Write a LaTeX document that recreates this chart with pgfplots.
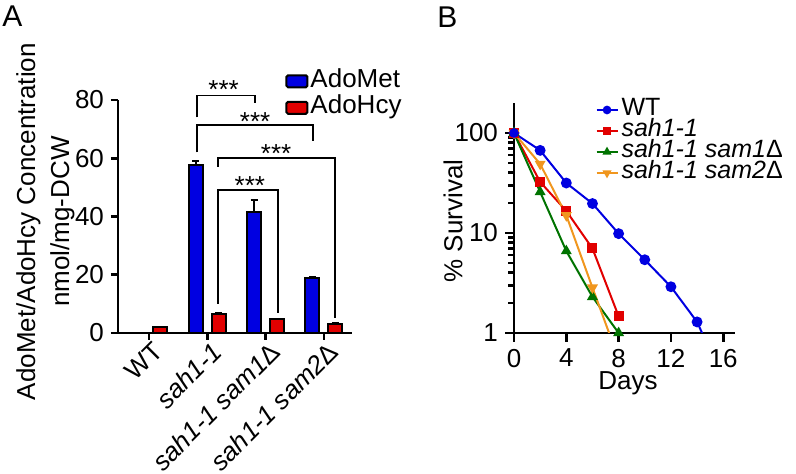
\documentclass[border=0pt]{standalone}
\usepackage{pgfplots}
\pgfplotsset{compat=1.18}
\usepackage{fontspec}
\setmainfont{Liberation Sans}
\definecolor{cblue}{RGB}{0,0,225}
\definecolor{cred}{RGB}{225,0,0}
\definecolor{cgreen}{RGB}{0,115,0}
\definecolor{corange}{RGB}{240,150,30}
\newcommand{\fs}{\fontsize{13}{13}\selectfont}
\newcommand{\fsl}{\fontsize{12.5}{12.5}\selectfont}
\begin{document}
\begin{tikzpicture}
\path[use as bounding box] (0pt,0pt) rectangle (398pt,-237pt);
\node[anchor=base west, font=\fontsize{15}{15}\selectfont, inner sep=0pt] at (1pt,-13.5pt) {A};
\node[anchor=base west, font=\fontsize{15}{15}\selectfont, inner sep=0pt] at (218.5pt,-14pt) {B};

\begin{axis}[
 font=\fs,
 at={(59pt,-166.5pt)}, anchor=south west,
 scale only axis, width=117pt, height=116.5pt,
 xmin=-0.53, xmax=3.48, ymin=0, ymax=80,
 axis x line=bottom, axis y line=left,
 axis line style={-, line width=1.3pt},
 every tick/.style={black, line width=1.3pt},
 major tick length=3.5pt, tick align=outside,
 xtick={0,1,2,3},
 xticklabels={WT, \textit{sah1-1}, \textit{sah1-1 sam1{\upshape Δ}}, \textit{sah1-1 sam2{\upshape Δ}}},
 xticklabel style={rotate=45, anchor=north east, inner sep=1pt, xshift=2pt, font=\fs},
 yticklabel style={font=\fs},
 ytick={0,20,40,60,80},
 /pgf/number format/assume math mode=true,
 ylabel={AdoMet/AdoHcy Concentration\\nmol/mg-DCW},
 ylabel style={at={(axis description cs:-0.31,0.478)}, anchor=center, align=center, font=\fontsize{13}{17}\selectfont},
 ybar=4.5pt, bar width=7pt,
 clip=false,
 legend style={at={(axis description cs:0.714,1.139)}, anchor=north west, draw=none, fill=none,
   font=\fs, inner sep=0pt, row sep=0pt,
   nodes={inner ysep=0pt, inner xsep=1pt, font=\fs, text height=9.5pt, text depth=3.75pt}},
 legend cell align=left,
]
\addplot[fill=cblue, draw=black, line width=1pt,
  legend image code/.code={\draw[fill=cblue, draw=black, line width=1pt, rounded corners=0.8pt] (0pt,-3pt) rectangle (10.5pt,3pt);},
  error bars/.cd, y dir=plus, y explicit,
  error bar style={line width=1pt, black},
  error mark options={rotate=90, mark size=1.8pt, line width=1pt, black}]
  coordinates {(1,57.6) +- (0,1.6) (2,41.6) +- (0,4.0) (3,18.8) +- (0,0.4)};
\addplot[fill=cred, draw=black, line width=1pt,
  legend image code/.code={\draw[fill=cred, draw=black, line width=1pt, rounded corners=0.8pt] (0pt,-3pt) rectangle (10.5pt,3pt);},
  error bars/.cd, y dir=plus, y explicit,
  error bar style={line width=1pt, black},
  error mark options={rotate=90, mark size=1.8pt, line width=1pt, black}]
  coordinates {(0,2.0) +- (0,0.2) (1,6.4) +- (0,0.4) (2,4.7) +- (0,0.2) (3,3.1) +- (0,0.2)};
\legend{AdoMet, AdoHcy}
\draw[line width=0.8pt] (axis cs:0.82,74) |- (axis cs:1.82,81.5) -- (axis cs:1.82,79);
\draw[line width=0.8pt] (axis cs:0.82,62) |- (axis cs:2.81,71.5) -- (axis cs:2.81,66);
\draw[line width=0.8pt] (axis cs:1.18,57) |- (axis cs:3.19,60) -- (axis cs:3.19,5);
\draw[line width=0.8pt] (axis cs:1.18,10) |- (axis cs:2.21,49) -- (axis cs:2.21,7);
\node[anchor=base, font=\fs, inner sep=0pt] at (axis cs:1.28,80.5) {***};
\node[anchor=base, font=\fs, inner sep=0pt] at (axis cs:1.82,69.5) {***};
\node[anchor=base, font=\fs, inner sep=0pt] at (axis cs:2.18,58.5) {***};
\node[anchor=base, font=\fs, inner sep=0pt] at (axis cs:1.73,47.5) {***};
\end{axis}

\begin{axis}[
 font=\fs,
 at={(257pt,-166.5pt)}, anchor=south west,
 scale only axis, width=110.5pt, height=115pt,
 xmin=0, xmax=16.9, ymin=1, ymax=199.5, ymode=log,
 axis x line=bottom, axis y line=left,
 axis line style={-, line width=1.3pt},
 every tick/.style={black, line width=1.3pt},
 major tick length=4.5pt, minor tick length=3pt,
 tick align=outside,
 xtick={0,4,8,12,16},
 ytick={1,10,100}, yticklabels={1,10,100},
 xticklabel style={font=\fs}, yticklabel style={font=\fs},
 /pgf/number format/assume math mode=true,
 xlabel={Days}, ylabel={\% Survival},
 xlabel style={at={(axis description cs:0.516,-0.217)}, anchor=center, font=\fs},
 ylabel style={at={(axis description cs:-0.276,0.487)}, anchor=center, font=\fs},
 legend style={at={(axis description cs:0.367,1.017)}, anchor=north west, draw=none, fill=none,
   font=\fsl, inner sep=0pt, row sep=0pt,
   nodes={inner ysep=0pt, inner xsep=1.5pt, font=\fsl, text height=8pt, text depth=2.5pt}},
 legend cell align=left,
 legend image code/.code={\draw[#1, mark indices={2}, /tikz/every mark/.append style={scale=0.75}] plot coordinates {(0pt,0pt)(5.25pt,0pt)(10.5pt,0pt)};},
]
\addplot[cblue, line width=1pt, mark=*, mark size=2.2pt, mark indices={1,2,3,4,5,6,7,8}]
  coordinates {(0,100)(2,67)(4,31.6)(6,19.7)(8,9.85)(10,5.4)(12,2.9)(14,1.29)(16,0.34)};
\addplot[cred, line width=1pt, mark=square*, mark size=2pt]
  coordinates {(0,100)(2,32.4)(4,16.6)(6,7.0)(8,1.47)};
\addplot[cgreen, line width=1pt, mark=triangle*, mark size=2.2pt]
  coordinates {(0,100)(2,25.7)(4,6.6)(6,2.3)(8,1.0)};
\addplot[corange, line width=1pt, mark=triangle*, mark size=2.2pt, mark options={rotate=180}, mark indices={1,2,3,4}]
  coordinates {(0,100)(2,49)(4,15)(6,2.84)(8,0.55)};
\addplot[cblue, forget plot, only marks, mark=*, mark size=2.2pt] coordinates {(0,100)};
\legend{WT, \textit{sah1-1}, \textit{sah1-1 sam1{\upshape Δ}}, \textit{sah1-1 sam2{\upshape Δ}}}
\end{axis}
\end{tikzpicture}
\end{document}
